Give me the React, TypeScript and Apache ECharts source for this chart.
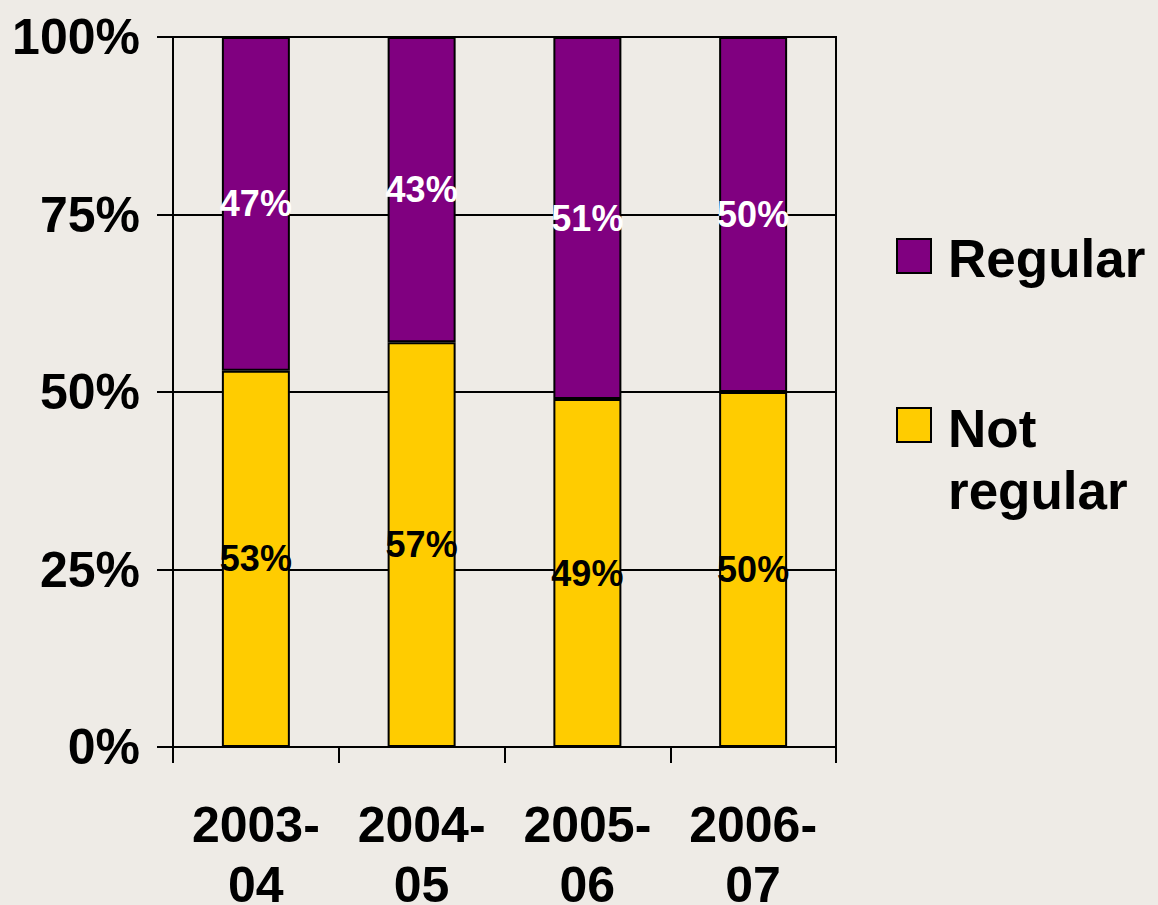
import * as React from "react";
import * as echarts from "echarts";

const years = ["2003-\n04", "2004-\n05", "2005-\n06", "2006-\n07"];
const notRegular = [53, 57, 49, 50];
const regular = [47, 43, 51, 50];
const seriesNames = ["Regular", "Not\nregular"];
const yTicks = [0, 25, 50, 75, 100];

const FONT = "'Liberation Sans', Arial, sans-serif";
const PURPLE = "#800080";
const YELLOW = "#FFCC00";
const BG = "#EEEBE6";

export default function App() {
  const ref = React.useRef<HTMLDivElement | null>(null);

  React.useEffect(() => {
    document.body.style.margin = "0";
    if (!ref.current) return;
    const chart = echarts.init(ref.current, undefined, { renderer: "svg" });

    const barLabel = (color: string) => ({
      show: true,
      position: "inside" as const,
      formatter: "{c}%",
      color,
      fontFamily: FONT,
      fontWeight: "bold" as const,
      fontSize: 36,
    });

    const option: any = {
      animation: false,
      backgroundColor: BG,
      grid: {
        left: 173,
        top: 37,
        right: 322,
        bottom: 158,
        containLabel: false,
        outerBoundsMode: "none",
        show: true,
        borderColor: "#000",
        borderWidth: 2,
        backgroundColor: "transparent",
      },
      xAxis: {
        type: "category",
        data: years,
        axisLine: { lineStyle: { color: "#000", width: 2 } },
        axisTick: { show: true, length: 16, lineStyle: { color: "#000", width: 2 } },
        axisLabel: {
          interval: 0,
          margin: 48,
          color: "#000",
          fontFamily: FONT,
          fontWeight: "bold",
          fontSize: 50,
          lineHeight: 60,
        },
      },
      yAxis: {
        type: "value",
        min: yTicks[0],
        max: yTicks[yTicks.length - 1],
        interval: 25,
        axisLine: { show: true, lineStyle: { color: "#000", width: 2 } },
        axisTick: { show: true, length: 16, lineStyle: { color: "#000", width: 2 } },
        splitLine: { show: true, lineStyle: { color: "#000", width: 2 } },
        axisLabel: {
          margin: 33,
          formatter: "{value}%",
          color: "#000",
          fontFamily: FONT,
          fontWeight: "bold",
          fontSize: 50,
        },
      },
      series: [
        {
          name: seriesNames[1],
          type: "bar",
          stack: "total",
          barWidth: 68,
          data: notRegular,
          itemStyle: { color: YELLOW, borderColor: "#000", borderWidth: 2 },
          label: barLabel("#000"),
        },
        {
          name: seriesNames[0],
          type: "bar",
          stack: "total",
          barWidth: 68,
          data: regular,
          itemStyle: { color: PURPLE, borderColor: "#000", borderWidth: 2 },
          label: barLabel("#fff"),
        },
      ],
      graphic: [
        {
          type: "rect",
          shape: { x: 897, y: 239, width: 34, height: 34 },
          style: { fill: PURPLE, stroke: "#000", lineWidth: 2 },
        },
        {
          type: "text",
          x: 948,
          y: 258,
          style: {
            text: seriesNames[0],
            fill: "#000",
            font: `bold 53px ${FONT}`,
            verticalAlign: "middle",
          },
        },
        {
          type: "rect",
          shape: { x: 897, y: 408, width: 34, height: 34 },
          style: { fill: YELLOW, stroke: "#000", lineWidth: 2 },
        },
        {
          type: "text",
          x: 948,
          y: 397,
          style: {
            text: seriesNames[1],
            fill: "#000",
            font: `bold 53px ${FONT}`,
            lineHeight: 62,
            verticalAlign: "top",
          },
        },
      ],
    };

    chart.setOption(option);
    return () => chart.dispose();
  }, []);

  return <div ref={ref} style={{ width: 1158, height: 905 }} />;
}
